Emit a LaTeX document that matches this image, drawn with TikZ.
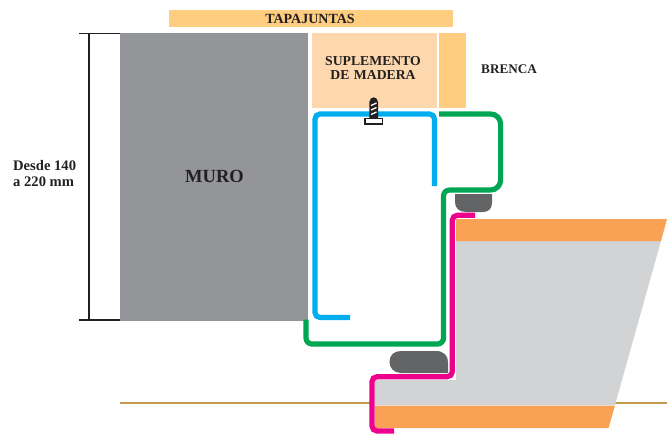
\documentclass[tikz,border=0pt]{standalone}
\usepackage{fontspec}
\setmainfont{Liberation Serif}
\definecolor{wood}{HTML}{FFCD80}
\definecolor{supl}{HTML}{FDD7AE}
\definecolor{muro}{HTML}{939598}
\definecolor{hueco}{HTML}{D1D3D4}
\definecolor{naranja}{HTML}{F9A154}
\definecolor{azul}{HTML}{00AEEF}
\definecolor{verde}{HTML}{00A651}
\definecolor{rosa}{HTML}{EC008C}
\definecolor{junta}{HTML}{636466}
\definecolor{suelo}{HTML}{C49A4E}
\definecolor{tinta}{HTML}{231F20}
\tikzset{
  lbl/.style={font=\bfseries\fontsize{#1}{#1}\selectfont,text=tinta,inner sep=0pt,align=center},
  perfil/.style={line width=5.2pt,rounded corners=5pt,draw=#1},
  dim/.style={draw=tinta,line width=1.1pt}
}
\begin{document}
\begin{tikzpicture}[x=1pt,y=-1pt]
\useasboundingbox (0,0) rectangle (667,434);
% wall and timber
\fill[wood] (169,10) rectangle (453,27);
\fill[muro] (120,33) rectangle (308,321);
\fill[supl] (312,33) rectangle (437,108);
\fill[wood] (439,33) rectangle (466,108);
% floor line
\draw[suelo,line width=2.6pt] (120,403) -- (372,403);
\draw[suelo,line width=2.6pt] (612,403) -- (667,403);
% frame
\fill[hueco] (456,241) -- (661,241) -- (615,405) -- (375,405) -- (375,380) -- (456,380) -- cycle;
\fill[naranja] (456,219) -- (667,219) -- (661,241) -- (456,241) -- cycle;
\fill[naranja] (375,405.5) -- (615,405.5) -- (608.5,428) -- (375,428) -- cycle;
% seals
\fill[junta] (455,194) -- (492,194) -- (492,203) .. controls (492,209) and (488,212) .. (483,212) -- (466,212) .. controls (459,212) and (455,208) .. (455,202) -- cycle;
\fill[junta] (448,373) -- (401,373) .. controls (394,373) and (389.5,368) .. (389.5,362) .. controls (389.5,355) and (394,351) .. (401,351) -- (436,351) .. controls (444,351) and (448,356) .. (448,362) -- cycle;
% profiles
\draw[perfil=azul] (350,317.5) -- (315,317.5) -- (315,114) -- (434.5,114) -- (434.5,186);
\draw[perfil=verde,rounded corners=10pt] (439,114) -- (500.6,114) -- (500.6,190) [rounded corners=6pt] -- (443.5,190) -- (443.5,344) -- (306,344) -- (306,319.5);
\draw[perfil=rosa] (475,215.3) -- (452.3,215.3) -- (452.3,376.7) -- (372,376.7) -- (372,431) -- (394,431);
% screw
\fill[tinta] (369.3,118) -- (369.3,102) .. controls (369.3,99) and (372,97.3) .. (373.7,97.3) .. controls (375.5,97.3) and (378,99) .. (378,102) -- (378,118) -- cycle;
\draw[white,line width=1.3pt] (371,105.5) -- (376.5,103);
\draw[white,line width=1.3pt] (371,110) -- (376.5,107.5);
\draw[white,line width=1.3pt] (371,114.5) -- (376.5,112);
\draw[tinta,fill=white,line width=1.3pt] (365,118.6) rectangle (382.8,124);
% dimension
\coordinate (dt) at (89,33.7);
\coordinate (db) at (89,320);
\draw[dim] (dt) -- (db);
\draw[dim] (79,33.7) -- (120,33.7);
\draw[dim] (79,320) -- (120,320);
% labels
\node[lbl=14] (tapa) at (310,18.5) {TAPAJUNTAS};
\node[lbl=13.7,text width=110pt,font=\bfseries\fontsize{13.7}{14.5}\selectfont] (supl) at (373,68) {SUPLEMENTO\\DE MADERA};
\node[lbl=13.2,anchor=west] (brenca) at (481,69.5) {BRENCA};
\node[lbl=18.5] (muro) at (214.5,176) {MURO};
\node[lbl=14.6,align=left,anchor=west,font=\bfseries\fontsize{14.6}{16}\selectfont] (desde) at (13,174) {Desde 140\\a 220 mm};
\end{tikzpicture}
\end{document}
